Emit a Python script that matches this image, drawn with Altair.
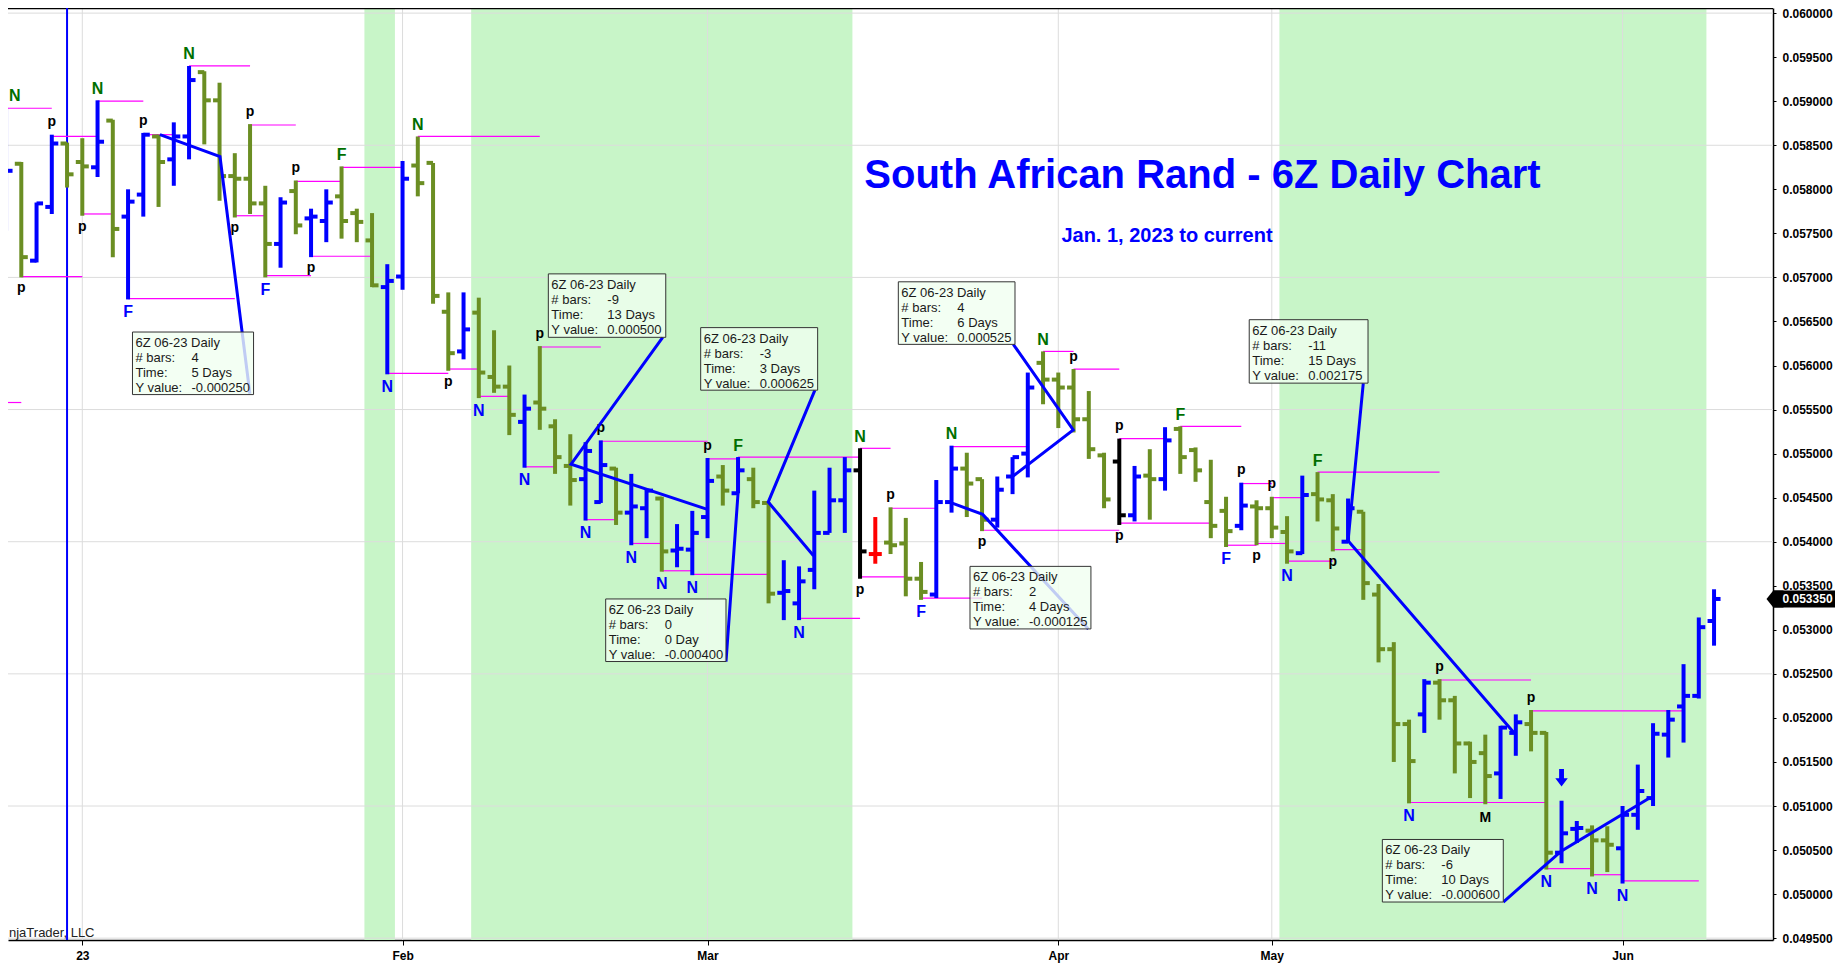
import altair as alt
import pandas as pd

FONT = "Liberation Sans"
W, H = 1765, 932
BLUE = "#0000FF"
OLIVE = "#6B8E23"
DKGREEN = "#006F00"
MAGENTA = "#FF00FF"
GRID = "#DCDCDC"
BAND = "#C8F5C8"

# ---------------- data ----------------
bar_index = list(range(-5, 108))
opens = [
    0.05761, 0.05829, 0.05719, 0.05780, 0.05852, 0.05831, 0.05825, 0.05878, 0.05769, 0.05794,
    0.05860, 0.05834, 0.05860, 0.05933, 0.05901, 0.05815, 0.05812, 0.05784, 0.05738, 0.05798,
    0.05767, 0.05764, 0.05792, 0.05773, 0.05742, 0.05689, 0.05701, 0.05827, 0.05830, 0.05661,
    0.05616, 0.05660, 0.05587, 0.05576, 0.05536, 0.05558, 0.05531, 0.05486, 0.05471, 0.05445,
    0.05483, 0.05433, 0.05438, 0.05449, 0.05390, 0.05391, 0.05428, 0.05474, 0.05455, 0.05471,
    0.05444, 0.05342, 0.05330, 0.05368, 0.05410, 0.05447, 0.05481, 0.05386, 0.05399, 0.05398,
    0.05358, 0.05340, 0.05445, 0.05483, 0.05471, 0.05425, 0.05474, 0.05500, 0.05603, 0.05584,
    0.05575, 0.05539, 0.05498, 0.05491, 0.05430, 0.05475, 0.05471, 0.05528, 0.05504, 0.05445,
    0.05435, 0.05418, 0.05440, 0.05438, 0.05411, 0.05387, 0.05454, 0.05447, 0.05400, 0.05434,
    0.05340, 0.05278, 0.05193, 0.05204, 0.05240, 0.05220, 0.05171, 0.05160, 0.05137, 0.05183,
    0.05193, 0.05183, 0.05047, 0.05074, 0.05072, 0.05061, 0.05052, 0.05090, 0.05109, 0.05181,
    0.05213, 0.05225, 0.05310,
]
highs = [
    0.05893, 0.05831, 0.05785, 0.05862, 0.05853, 0.05858, 0.05901, 0.05879, 0.05800, 0.05864,
    0.05862, 0.05876, 0.05940, 0.05934, 0.05921, 0.05841, 0.05874, 0.05804, 0.05791, 0.05810,
    0.05778, 0.05800, 0.05826, 0.05778, 0.05773, 0.05715, 0.05832, 0.05860, 0.05830, 0.05683,
    0.05683, 0.05677, 0.05640, 0.05600, 0.05567, 0.05622, 0.05539, 0.05522, 0.05513, 0.05515,
    0.05484, 0.05477, 0.05460, 0.05451, 0.05420, 0.05435, 0.05495, 0.05487, 0.05496, 0.05484,
    0.05445, 0.05379, 0.05372, 0.05458, 0.05484, 0.05496, 0.05506, 0.05428, 0.05439, 0.05427,
    0.05377, 0.05470, 0.05509, 0.05501, 0.05471, 0.05474, 0.05496, 0.05592, 0.05616, 0.05592,
    0.05596, 0.05571, 0.05501, 0.05517, 0.05486, 0.05505, 0.05530, 0.05531, 0.05507, 0.05493,
    0.05451, 0.05467, 0.05447, 0.05451, 0.05429, 0.05475, 0.05479, 0.05454, 0.05449, 0.05434,
    0.05352, 0.05286, 0.05198, 0.05244, 0.05244, 0.05225, 0.05173, 0.05181, 0.05191, 0.05204,
    0.05209, 0.05184, 0.05106, 0.05083, 0.05078, 0.05077, 0.05100, 0.05147, 0.05194, 0.05209,
    0.05261, 0.05314, 0.05346,
]
lows = [
    0.05753, 0.05700, 0.05717, 0.05772, 0.05802, 0.05770, 0.05814, 0.05723, 0.05675, 0.05769,
    0.05780, 0.05804, 0.05834, 0.05851, 0.05787, 0.05768, 0.05772, 0.05700, 0.05711, 0.05749,
    0.05723, 0.05740, 0.05744, 0.05740, 0.05689, 0.05590, 0.05686, 0.05792, 0.05670, 0.05594,
    0.05607, 0.05563, 0.05569, 0.05521, 0.05484, 0.05527, 0.05477, 0.05441, 0.05424, 0.05444,
    0.05419, 0.05396, 0.05404, 0.05366, 0.05371, 0.05362, 0.05404, 0.05441, 0.05455, 0.05438,
    0.05330, 0.05311, 0.05311, 0.05346, 0.05410, 0.05410, 0.05358, 0.05375, 0.05386, 0.05338,
    0.05334, 0.05336, 0.05433, 0.05428, 0.05412, 0.05416, 0.05454, 0.05473, 0.05556, 0.05529,
    0.05524, 0.05494, 0.05438, 0.05419, 0.05423, 0.05425, 0.05458, 0.05477, 0.05468, 0.05404,
    0.05394, 0.05413, 0.05396, 0.05404, 0.05375, 0.05386, 0.05423, 0.05389, 0.05399, 0.05334,
    0.05263, 0.05150, 0.05103, 0.05183, 0.05198, 0.05137, 0.05109, 0.05102, 0.05108, 0.05157,
    0.05162, 0.05028, 0.05035, 0.05058, 0.05020, 0.05025, 0.05012, 0.05073, 0.05100, 0.05155,
    0.05172, 0.05222, 0.05282,
]
closes = [
    0.05821, 0.05723, 0.05784, 0.05852, 0.05817, 0.05826, 0.05854, 0.05755, 0.05786, 0.05862,
    0.05831, 0.05860, 0.05924, 0.05901, 0.05815, 0.05812, 0.05784, 0.05738, 0.05785, 0.05759,
    0.05769, 0.05785, 0.05764, 0.05763, 0.05691, 0.05696, 0.05812, 0.05807, 0.05679, 0.05614,
    0.05641, 0.05592, 0.05576, 0.05544, 0.05551, 0.05551, 0.05496, 0.05470, 0.05503, 0.05487,
    0.05433, 0.05440, 0.05458, 0.05389, 0.05392, 0.05410, 0.05469, 0.05458, 0.05481, 0.05445,
    0.05341, 0.05344, 0.05355, 0.05410, 0.05447, 0.05481, 0.05389, 0.05386, 0.05396, 0.05358,
    0.05343, 0.05445, 0.05483, 0.05466, 0.05425, 0.05459, 0.05496, 0.05575, 0.05584, 0.05575,
    0.05539, 0.05505, 0.05448, 0.05430, 0.05474, 0.05471, 0.05515, 0.05496, 0.05481, 0.05418,
    0.05412, 0.05441, 0.05438, 0.05416, 0.05389, 0.05453, 0.05448, 0.05415, 0.05438, 0.05353,
    0.05278, 0.05193, 0.05151, 0.05240, 0.05220, 0.05171, 0.05150, 0.05134, 0.05189, 0.05195,
    0.05183, 0.05047, 0.05069, 0.05075, 0.05061, 0.05056, 0.05090, 0.05117, 0.05182, 0.05198,
    0.05225, 0.05303, 0.05335,
]
black_bars = [51, 68]
red_bars = [52]

month_pos = [0, 21, 41, 64, 78, 101]
month_names = ["23", "Feb", "Mar", "Apr", "May", "Jun"]
price_ticks = [0.0495, 0.0500, 0.0505, 0.0510, 0.0515, 0.0520, 0.0525, 0.0530, 0.0535, 0.0540, 0.0545,
               0.0550, 0.0555, 0.0560, 0.0565, 0.0570, 0.0575, 0.0580, 0.0585, 0.0590, 0.0595, 0.0600]
price_grid = [0.0495, 0.0510, 0.0525, 0.0540, 0.0555, 0.0570, 0.0585, 0.0600]

band_first = [19, 26, 79]
band_last = [20, 50, 106]
year_break_bar = [-1]

level_start = [-5, -2, -4, 1, 0, 4, 3, 7, 11, 10, 12, 14, 15, 17, 22, 20, 24, -6, 26, 29, 30, 34, 33, 36, 38, 40,
               41, 43, 47, 51, 51, 53, 55, 57, 59, 63, 65, 68, 68, 72, 75, 76, 77, 78, 79, 81, 82, 89, 87, 95,
               96, 99, 101]
level_end = [-2, 1, 0, 4, 2, 6, 10, 11, 14, 12, 15, 17, 19, 21, 30, 24, 26, -4, 28, 31, 34, 41, 35, 38, 40, 45,
             43, 51, 51, 53, 54, 56, 59, 62, 68, 65, 68, 71, 74, 76, 77, 78, 79, 80, 82, 89, 84, 95, 96, 105,
             99, 101, 106]
level_price = [0.05892, 0.05860, 0.05701, 0.05900, 0.05772, 0.05862, 0.05676, 0.05940, 0.05873, 0.05770,
               0.05702, 0.05809, 0.05724, 0.05825, 0.05860, 0.05591, 0.05596, 0.05558, 0.05565, 0.05485,
               0.05621, 0.05514, 0.05425, 0.05398, 0.05367, 0.05363, 0.05494, 0.05496, 0.05313, 0.05506,
               0.05360, 0.05438, 0.05336, 0.05508, 0.05413, 0.05616, 0.05596, 0.05517, 0.05421, 0.05531,
               0.05396, 0.05466, 0.05398, 0.05450, 0.05378, 0.05479, 0.05391, 0.05243, 0.05104, 0.05208,
               0.05029, 0.05022, 0.05015]

label_bar = [-5, -4, -2, 0, 1, 3, 4, 7, 10, 11, 12, 14, 15, 17, 20, 22, 24, 26, 29, 30, 33, 34, 36, 38, 40, 41,
             43, 47, 51, 51, 53, 55, 57, 59, 63, 65, 68, 68, 72, 75, 76, 77, 78, 79, 81, 82, 87, 89, 92, 95,
             96, 99, 101]
label_text = ["N", "p", "p", "p", "N", "F", "p", "N", "p", "p", "F", "p", "p", "F", "N", "N", "p", "N", "N", "p",
              "N", "p", "N", "N", "N", "p", "F", "N", "N", "p", "p", "F", "N", "p", "N", "p", "p", "p", "F", "F",
              "p", "p", "p", "N", "F", "p", "N", "p", "M", "p", "N", "N", "N"]
label_side = ["a", "b", "a", "b", "a", "b", "a", "a", "b", "a", "b", "a", "b", "a", "b", "a", "b", "b", "b", "a",
              "b", "a", "b", "b", "b", "a", "a", "b", "a", "b", "a", "b", "a", "b", "a", "a", "a", "b", "a", "b",
              "a", "b", "a", "b", "a", "b", "b", "a", "b", "a", "b", "b", "b"]
label_min_x = -4.42  # keep the edge label inside the visible plot
arrow_bar = [97]

ruler_id = [1, 1, 1, 2, 2, 2, 3, 3, 3, 4, 4, 4, 5, 5, 5, 6, 6, 6, 7, 7, 7, 8, 8, 8]
ruler_step = [0, 1, 2] * 8
ruler_bar = [5.09, 9.03, 10.99, 40.94, 32.05, 38.06, 47.95, 44.98, 48.04, 43.0, 43.0, 42.21,
             61.0, 64.98, 61.05, 57.0, 59.04, 65.97, 93.84, 83.0, 84.0, 102.77, 97.0, 93.18]
ruler_price = [0.05862, 0.05837, 0.05568, 0.05437, 0.05488, 0.05632, 0.05384, 0.05445, 0.05572,
               0.05496, 0.05455, 0.05264, 0.05474, 0.05527, 0.05624, 0.05444, 0.05431, 0.05301,
               0.05184, 0.05401, 0.05580, 0.05109, 0.05049, 0.04991]

box_left = [3.29, 30.56, 40.55, 34.32, 53.51, 58.21, 76.52, 85.25]
box_right = [11.23, 38.26, 48.22, 42.21, 61.16, 66.14, 84.31, 93.18]
box_top = [0.05638, 0.05704, 0.05643, 0.05335, 0.05695, 0.05372, 0.05652, 0.05062]
box_bottom = [0.05567, 0.05632, 0.05572, 0.05264, 0.05624, 0.05301, 0.05580, 0.04991]
box_bars = ["4", "-9", "-3", "0", "4", "2", "-11", "-6"]
box_time = ["5 Days", "13 Days", "3 Days", "0 Day", "6 Days", "4 Days", "15 Days", "10 Days"]
box_yval = ["-0.000250", "0.000500", "0.000625", "-0.000400", "0.000525", "-0.000125", "0.002175", "-0.000600"]

title_text = "South African Rand - 6Z Daily Chart"
subtitle_text = "Jan. 1, 2023 to current"
copyright_text = "njaTrader, LLC"

# ---------------- tables ----------------
bars = pd.DataFrame({"i": bar_index, "open": opens, "high": highs, "low": lows, "close": closes})
bars["kind"] = ["up" if c >= o else "down" for o, c in zip(opens, closes)]
bars.loc[bars["i"].isin(black_bars), "kind"] = "black"
bars.loc[bars["i"].isin(red_bars), "kind"] = "red"

bands = pd.DataFrame({"first": band_first, "last": band_last})
bands["start"] = bands["first"] - 0.5
bands["end"] = bands["last"] + 0.5

levels = pd.DataFrame({"s": level_start, "e": level_end, "p": level_price})

lab = pd.DataFrame({"i": label_bar, "text": label_text, "side": label_side})
lab = lab.merge(bars[["i", "high", "low"]], on="i", how="left")
lab["x"] = lab["i"].clip(lower=label_min_x)
lab["y"] = [h if s == "a" else l for h, l, s in zip(lab["high"], lab["low"], lab["side"])]
lab["col"] = ["#000000" if t in ("p", "M") else (DKGREEN if s == "a" else BLUE)
              for t, s in zip(lab["text"], lab["side"])]
lab["fs"] = [14 if t in ("p", "M") else 16 for t in lab["text"]]

arrows = bars[bars["i"].isin(arrow_bar)][["i", "high"]]

rulers = pd.DataFrame({"rid": ruler_id, "step": ruler_step, "i": ruler_bar, "p": ruler_price})

boxes = pd.DataFrame({"box": range(len(box_left)), "left": box_left, "right": box_right,
                      "top": box_top, "bottom": box_bottom})
rows = []
for b, (l, t, nb, tm, yv) in enumerate(zip(box_left, box_top, box_bars, box_time, box_yval)):
    rows.append({"left": l, "top": t, "row": 0, "col": 0, "text": "6Z 06-23 Daily"})
    for r, (lbl, val) in enumerate([("# bars:", nb), ("Time:", tm), ("Y value:", yv)], start=1):
        rows.append({"left": l, "top": t, "row": r, "col": 0, "text": lbl})
        rows.append({"left": l, "top": t, "row": r, "col": 1, "text": val})
box_text = pd.DataFrame(rows)

months = pd.DataFrame({"i": month_pos, "name": month_names})
grid_df = pd.DataFrame({"v": price_grid})
year_df = pd.DataFrame({"i": year_break_bar})
last_df = pd.DataFrame({"p": [closes[-1]], "t": [f"{closes[-1]:.6f}"]})
one = pd.DataFrame({"t": [title_text], "s": [subtitle_text], "c": [copyright_text]})

# ---------------- scales / axes ----------------
xs = alt.Scale(domain=[-4.872, 110.866], nice=False, zero=False)
ys = alt.Scale(domain=[0.049479, 0.060058], nice=False, zero=False)
label_expr = "".join(f"datum.value == {p} ? '{n}' : " for p, n in zip(month_pos, month_names)) + "''"
AX = alt.Axis(values=month_pos, labelExpr=label_expr, title=None, grid=False, tickSize=5,
              tickColor="black", domainColor="black", domainWidth=1.5, labelFont=FONT,
              labelFontSize=12, labelFontWeight="bold", labelColor="black", labelPadding=5,
              labelAngle=0, labelOverlap=False, labelFlush=False)
AY = alt.Axis(orient="right", values=price_ticks, format=".6f", title=None, grid=False, tickSize=3,
              tickColor="black", domainColor="black", domainWidth=1.5, labelFont=FONT,
              labelFontSize=12, labelFontWeight="bold", labelColor="black", labelPadding=6,
              labelOverlap=False)


def X(f):
    return alt.X(f, scale=xs, axis=AX)


def Y(f):
    return alt.Y(f, scale=ys, axis=AY)


layers = []
layers.append(alt.Chart(bands).mark_rect(color=BAND).encode(
    x=X("start:Q"), x2="end:Q", y=alt.value(0), y2=alt.value(H)))
layers.append(alt.Chart(months).mark_rule(color=GRID, strokeWidth=1).encode(
    x=X("i:Q"), y=alt.value(0), y2=alt.value(H)))
layers.append(alt.Chart(grid_df).mark_rule(color=GRID, strokeWidth=1).encode(
    y=Y("v:Q"), x=alt.value(0), x2=alt.value(W)))
layers.append(alt.Chart(one).mark_rule(color="black", strokeWidth=1.5).encode(
    y=alt.value(0.5), x=alt.value(0), x2=alt.value(W)))
layers.append(alt.Chart(year_df).mark_rule(color=BLUE, strokeWidth=2).encode(
    x=X("i:Q"), y=alt.value(0), y2=alt.value(H)))
layers.append(alt.Chart(levels).mark_rule(color=MAGENTA, strokeWidth=1.2).encode(
    x=X("s:Q"), x2="e:Q", y=Y("p:Q")))

bar_color = alt.Color("kind:N", scale=alt.Scale(domain=["up", "down", "black", "red"],
                                                range=[BLUE, OLIVE, "#000000", "#FF0000"]), legend=None)
layers.append(alt.Chart(bars).mark_rule(strokeWidth=4).encode(
    x=X("i:Q"), y=Y("low:Q"), y2="high:Q", color=bar_color))
layers.append(alt.Chart(bars).mark_rule(strokeWidth=4, xOffset=-6.5).encode(
    x=X("i:Q"), x2="i:Q", y=Y("open:Q"), color=bar_color))
layers.append(alt.Chart(bars).mark_rule(strokeWidth=4, x2Offset=6.5).encode(
    x=X("i:Q"), x2="i:Q", y=Y("close:Q"), color=bar_color))

for is_p, side, dy in [(False, "a", -6.5), (False, "b", 17.5), (True, "a", -8.3), (True, "b", 14.9)]:
    sub = lab[((lab["text"] == "p") == is_p) & (lab["side"] == side)]
    layers.append(alt.Chart(sub).mark_text(font=FONT, fontWeight="bold", align="center",
                                           baseline="alphabetic", dy=dy).encode(
        x=X("x:Q"), y=Y("y:Q"), text="text:N", color=alt.Color("col:N", scale=None),
        size=alt.Size("fs:Q", scale=None)))

layers.append(alt.Chart(arrows).mark_point(
    shape="M-0.28,-1L0.28,-1L0.28,0.05L0.72,0.05L0,1L-0.72,0.05L-0.28,0.05Z",
    filled=True, color=BLUE, opacity=1, size=300, strokeWidth=0, yOffset=-23).encode(
    x=X("i:Q"), y=Y("high:Q")))

layers.append(alt.Chart(rulers).mark_line(color=BLUE, strokeWidth=3).encode(
    x=X("i:Q"), y=Y("p:Q"), detail="rid:N", order="step:Q"))
layers.append(alt.Chart(boxes).mark_rect(fill="#F0FFF0", fillOpacity=0.8, stroke="#333333",
                                         strokeWidth=1).encode(
    x=X("left:Q"), x2="right:Q", y=Y("top:Q"), y2="bottom:Q"))
for r in range(4):
    for c in range(2):
        sub = box_text[(box_text["row"] == r) & (box_text["col"] == c)]
        if len(sub) == 0:
            continue
        layers.append(alt.Chart(sub).mark_text(font=FONT, fontSize=13, color="#1A1A1A", align="left",
                                               baseline="alphabetic", dx=3 if c == 0 else 59,
                                               dy=15 + 15 * r).encode(
            x=X("left:Q"), y=Y("top:Q"), text="text:N"))

layers.append(alt.Chart(one).mark_text(font=FONT, fontSize=40, fontWeight="bold", color=BLUE,
                                       align="center", baseline="alphabetic").encode(
    x=alt.value(1194.5), y=alt.value(180), text="t:N"))
layers.append(alt.Chart(one).mark_text(font=FONT, fontSize=20, fontWeight="bold", color=BLUE,
                                       align="center", baseline="alphabetic").encode(
    x=alt.value(1159), y=alt.value(234), text="s:N"))
layers.append(alt.Chart(one).mark_text(font=FONT, fontSize=13, color="#222222",
                                       align="left", baseline="alphabetic").encode(
    x=alt.value(1), y=alt.value(929), text="c:N"))

layers.append(alt.Chart(last_df).mark_rule(color="black", strokeWidth=17).encode(
    y=Y("p:Q"), x=alt.value(W + 1), x2=alt.value(W + 80)))
layers.append(alt.Chart(last_df).mark_point(shape="M-1,0L-0.2,-1L1,-1L1,1L-0.2,1Z", filled=True,
                                            color="black", opacity=1, size=289, strokeWidth=0).encode(
    y=Y("p:Q"), x=alt.value(W + 2)))
layers.append(alt.Chart(last_df).mark_text(font=FONT, fontSize=12, fontWeight="bold", color="white",
                                           align="left", baseline="middle").encode(
    y=Y("p:Q"), x=alt.value(W + 9.5), text="t:N"))

chart = alt.layer(*layers).properties(
    width=W, height=H,
    padding={"left": 0, "top": 0, "right": 62, "bottom": 24},
    autosize=alt.AutoSizeParams(type="none"),
).configure_view(stroke=None)

chart.save("out.html", embed_options={"renderer": "svg", "actions": False})
